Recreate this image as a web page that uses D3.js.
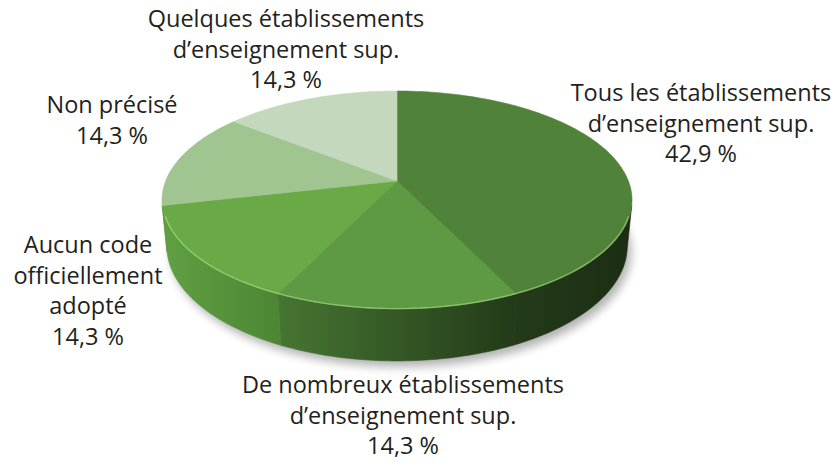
<!DOCTYPE html>
<html>
<head>
<meta charset="utf-8">
<script src="https://cdn.jsdelivr.net/npm/d3@7"></script>
<style>
  html, body { margin: 0; padding: 0; background: #ffffff; }
  svg { display: block; }
  text { font-family: "Open Sans", "Noto Sans", sans-serif; fill: #231f20; }
</style>
</head>
<body>
<svg id="chart" width="836" height="470"></svg>
<script>
// ---- data ----
const categories = [
  "Tous les établissements d’enseignement sup.",
  "De nombreux établissements d’enseignement sup.",
  "Aucun code officiellement adopté",
  "Non précisé",
  "Quelques établissements d’enseignement sup."
];
const labelLines = [
  ["Tous les établissements", "d’enseignement sup."],
  ["De nombreux établissements", "d’enseignement sup."],
  ["Aucun code", "officiellement", "adopté"],
  ["Non précisé"],
  ["Quelques établissements", "d’enseignement sup."]
];
const values = [42.9, 14.3, 14.3, 14.3, 14.3];
const percentLabels = ["42,9 %", "14,3 %", "14,3 %", "14,3 %", "14,3 %"];

// ---- styles / layout ----
const topColors  = ["#518239", "#5e9a44", "#6aaa46", "#a1c591", "#c3d8bc"];
const sideColors = [["#243b1a", "#1c2d13"], ["#467632", "#233a19"], ["#60a042", "#4c8634"], ["#5e9640", "#5a9040"], ["#a1c591", "#a1c591"]];
const labelPos = [[701, 101], [403, 393], [88, 253], [112, 113], [286, 27]];
const lineH = 30.7;

const svg = d3.select("#chart");
const cx = 397, cy = 181;
const fRD = 231.4;           // focal * R / D
const k = 0.196;             // R / D
const sinP = 0.4567, cosP = Math.sqrt(1 - sinP * sinP);
const depth = 0.226;         // thickness relative to radius

function project(theta, r, Y) {
  const X = r * Math.sin(theta), Z = r * Math.cos(theta);
  const u = X, v = Y * cosP + Z * sinP;
  const w = 1 + k * (Z * cosP - Y * sinP);
  return [cx + fRD * u / w, cy - fRD * v / w];
}

const pie = d3.pie().sort(null).value(d => d)(values);
const line = d3.line();
const defs = svg.append("defs");

// shadow
const blur = defs.append("filter").attr("id", "shadow").attr("x", "-20%").attr("y", "-20%").attr("width", "140%").attr("height", "140%");
blur.append("feGaussianBlur").attr("stdDeviation", 5);
const full = d3.range(0, 361, 2).map(a => project(a * Math.PI / 180, 1, -depth));
svg.append("path")
  .attr("d", line(full) + "Z")
  .attr("transform", "translate(4,6)")
  .attr("fill", "#000").attr("opacity", 0.3)
  .attr("filter", "url(#shadow)");

// side walls (visible front range)
const visLim = Math.acos(-k / cosP);   // wall faces camera when cos(theta) < -k/cosP
const vMin = visLim, vMax = 2 * Math.PI - visLim;
const gSide = svg.append("g");
pie.forEach((p, i) => {
  const a0 = Math.max(p.startAngle, vMin), a1 = Math.min(p.endAngle, vMax);
  if (a1 <= a0) return;
  const n = 60;
  const angs = d3.range(n + 1).map(j => a0 + (a1 - a0) * j / n);
  const topPts = angs.map(a => project(a, 1, 0));
  const botPts = angs.map(a => project(a, 1, -depth)).reverse();
  const gid = "side" + i;
  const gr = defs.append("linearGradient").attr("id", gid).attr("x1", 0).attr("x2", 1).attr("y1", 0).attr("y2", 0);
  gr.append("stop").attr("offset", 0).attr("stop-color", sideColors[i][0]);
  gr.append("stop").attr("offset", 1).attr("stop-color", sideColors[i][1]);
  gSide.append("path")
    .attr("d", line(topPts.concat(botPts)) + "Z")
    .attr("fill", `url(#${gid})`)
    .attr("stroke", `url(#${gid})`).attr("stroke-width", 0.6);
});

// top faces
const gTop = svg.append("g");
pie.forEach((p, i) => {
  const n = Math.max(8, Math.round((p.endAngle - p.startAngle) * 40));
  const pts = [project(0, 0, 0)].concat(
    d3.range(n + 1).map(j => project(p.startAngle + (p.endAngle - p.startAngle) * j / n, 1, 0)));
  gTop.append("path")
    .attr("d", line(pts) + "Z")
    .attr("fill", topColors[i])
    .attr("stroke", topColors[i]).attr("stroke-width", 0.6)
    .attr("stroke-linejoin", "round");
});

// rim highlight along the front top edge
const rim = d3.range(0, 61).map(j => project(vMin + 0.1 + (vMax - vMin - 0.2) * j / 60, 0.997, 0));
svg.append("path")
  .attr("d", line(rim))
  .attr("fill", "none")
  .attr("stroke", "#b6e690").attr("stroke-opacity", 0.55).attr("stroke-width", 1.3);

// labels
const gLab = svg.append("g").attr("text-anchor", "middle").style("font-size", "23.5px");
pie.forEach((p, i) => {
  const lines = labelLines[i].concat([percentLabels[i]]);
  const t = gLab.append("text")
    .attr("x", labelPos[i][0]).attr("y", labelPos[i][1]);
  lines.forEach((s, j) => {
    t.append("tspan").attr("x", labelPos[i][0]).attr("dy", j === 0 ? 0 : lineH).text(s);
  });
});
</script>
</body>
</html>
